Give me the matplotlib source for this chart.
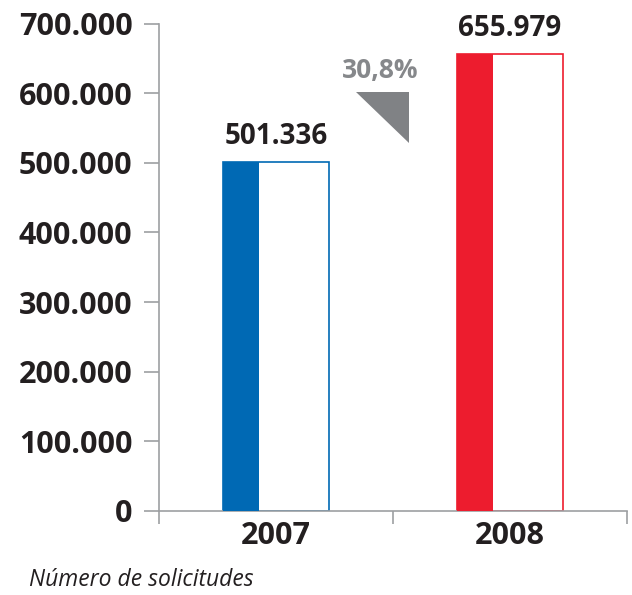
import matplotlib.pyplot as plt
from matplotlib.patches import Polygon

# === Datos ===
years = ["2007", "2008"]
values = [501336, 655979]
bar_colors = ["#0069b4", "#ed1c2e"]
y_ticks = [0, 100000, 200000, 300000, 400000, 500000, 600000, 700000]
footnote = "Número de solicitudes"

def fmt_miles(v):
    return f"{v:,.0f}".replace(",", ".")

plt.rcParams["font.family"] = "Open Sans"

DARK = "#231f20"
GRAY_AX = "#9d9fa2"
GRAY_TXT = "#86888b"

fig = plt.figure(figsize=(6.32, 5.95), dpi=100)
ax = fig.add_axes([0.2516, 0.1412, 0.7405, 0.8193])

x = list(range(len(years)))
w = 0.457
fill_w = 0.154
left = [xi - w / 2 for xi in x]

# barra completa (blanca con borde) + parte rellena
ax.bar(left, values, width=w, align="edge", facecolor="white",
       edgecolor=bar_colors, linewidth=1.2, zorder=2)
ax.bar(left, values, width=fill_w, align="edge", color=bar_colors,
       linewidth=0, zorder=3)

for xi, v in zip(x, values):
    ax.text(xi, v + 16000, fmt_miles(v), ha="center", va="bottom",
            fontsize=20, fontweight="bold", color=DARK, clip_on=False)

# variación porcentual
pct = (values[1] / values[0] - 1) * 100
pct_txt = f"{int(pct * 10) / 10:.1f}%".replace(".", ",")
ax.text(0.444, 632000, pct_txt, ha="center", va="center",
        fontsize=19, fontweight="bold", color=GRAY_TXT)
tri = Polygon([(0.340, 601000), (0.568, 601000), (0.568, 528000)],
              closed=True, facecolor="#808285", edgecolor="none")
ax.add_patch(tri)

# === Ejes ===
ax.set_xlim(-0.5, 1.5)
ax.set_ylim(0, 700000)
ax.set_yticks(y_ticks)
ax.set_yticklabels([fmt_miles(t) for t in y_ticks])
ax.set_xticks([-0.5, 0.5, 1.5])
ax.set_xticklabels([])
ax.set_xticks(x, minor=True)
ax.set_xticklabels(years, minor=True)

ax.tick_params(axis="y", which="major", direction="out", length=11,
               width=1.2, color=GRAY_AX, pad=8, labelsize=22,
               labelcolor=DARK)
ax.tick_params(axis="x", which="major", direction="out", length=9.5,
               width=1.2, color=GRAY_AX)
ax.tick_params(axis="x", which="minor", length=0, pad=7, labelsize=22,
               labelcolor=DARK)
for lab in ax.get_yticklabels() + ax.get_xticklabels(minor=True):
    lab.set_fontweight("bold")

for s in ["top", "right"]:
    ax.spines[s].set_visible(False)
for s in ["left", "bottom"]:
    ax.spines[s].set_color(GRAY_AX)
    ax.spines[s].set_linewidth(1.2)

fig.text(29 / 632, 1 - 580 / 595, footnote, fontsize=16.5, style="italic",
         color=DARK, ha="left", va="center")

fig.savefig("out.png", dpi=100)
